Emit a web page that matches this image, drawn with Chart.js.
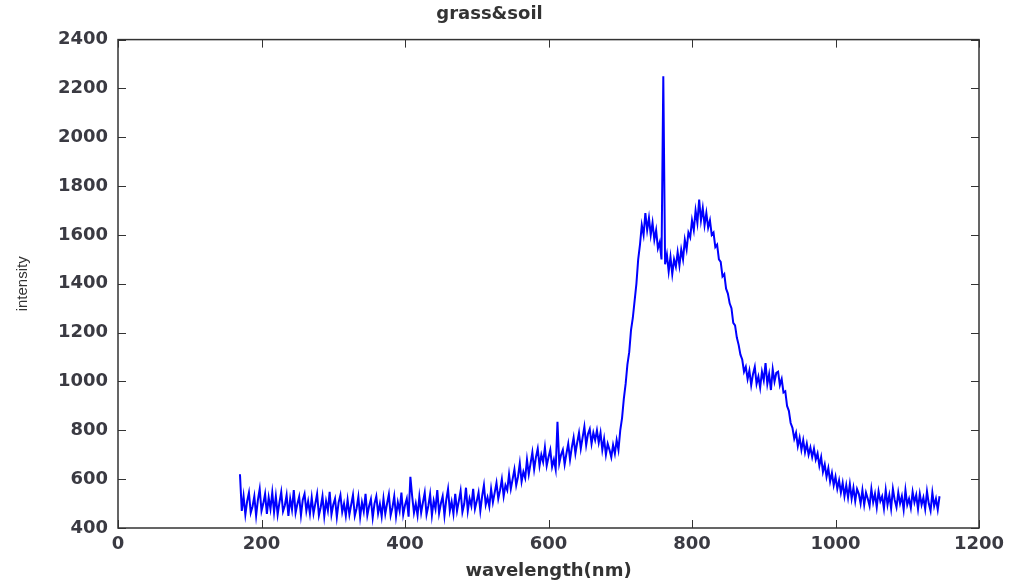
<!DOCTYPE html>
<html>
<head>
<meta charset="utf-8">
<title>grass&amp;soil</title>
<script src="https://cdn.jsdelivr.net/npm/chart.js@4.4.0/dist/chart.umd.min.js"></script>
<style>
  html, body { margin: 0; padding: 0; background: #fff; }
  #wrap { width: 1011px; height: 583px; position: relative; }
</style>
</head>
<body>
<div id="wrap"><canvas id="spectrum"></canvas></div>
<script>
// spectrum, one value every 2.5 nm starting at 170 nm
const wlStart = 170;
const wlStep = 2.5;
const intensity = [
  // 170 - 217.5
  620, 470, 530, 455, 510, 545, 462, 488, 530, 450, 515, 560, 470, 500, 540, 458, 525, 478, 545, 465,
  // 220 - 267.5
  530, 455, 505, 548, 468, 492, 535, 450, 520, 475, 555, 462, 498, 528, 452, 515, 540, 470, 510, 458,
  // 270 - 317.5
  525, 460, 500, 540, 452, 485, 530, 448, 510, 472, 548, 455, 495, 520, 445, 505, 535, 465, 500, 450,
  // 320 - 367.5
  515, 455, 495, 535, 450, 480, 528, 445, 505, 468, 540, 452, 490, 518, 443, 500, 530, 460, 498, 448,
  // 370 - 417.5
  520, 458, 500, 538, 452, 484, 530, 448, 505, 470, 545, 455, 493, 520, 446, 610, 530, 462, 500, 452,
  // 420 - 467.5
  528, 462, 505, 545, 455, 490, 538, 452, 512, 478, 555, 460, 500, 530, 450, 515, 560, 470, 508, 458,
  // 470 - 517.5
  540, 470, 510, 552, 465, 498, 565, 470, 520, 490, 560, 478, 510, 545, 470, 530, 575, 495, 525, 488,
  // 520 - 567.5
  560, 505, 545, 585, 520, 555, 600, 530, 575, 555, 620, 560, 600, 640, 575, 610, 665, 590, 630, 605,
  // 570 - 617.5
  680, 620, 665, 710, 640, 690, 725, 655, 700, 670, 730, 655, 690, 720, 650, 680, 640, 835, 665, 700,
  // 620 - 667.5
  720, 660, 705, 745, 680, 730, 770, 705, 750, 790, 725, 770, 815, 740, 785, 805, 745, 790, 760, 800,
  // 670 - 717.5
  750, 790, 720, 765, 700, 745, 720, 690, 740, 705, 760, 720, 800, 850, 930, 990, 1070, 1120, 1210, 1260,
  // 720 - 767.5
  1330, 1400, 1500, 1560, 1640, 1600, 1690, 1620, 1670, 1600, 1650, 1580, 1620, 1545, 1570, 1500, 2250, 1480, 1520, 1450,
  // 770 - 817.5
  1510, 1440, 1500, 1470, 1530, 1475, 1540, 1500, 1580, 1540, 1610, 1590, 1660, 1620, 1700, 1650, 1745, 1660, 1710, 1640,
  // 820 - 867.5
  1690, 1630, 1660, 1600, 1610, 1550, 1560, 1500, 1490, 1430, 1440, 1380, 1360, 1320, 1300, 1240, 1230, 1180, 1150, 1110,
  // 870 - 917.5
  1090, 1040, 1060, 1010, 1045, 985, 1030, 1060, 990, 1020, 975, 1040, 1005, 1075, 990, 1030, 965, 1050, 1000, 1035,
  // 920 - 967.5
  1040, 985, 1010, 955, 960, 900, 880, 830, 810, 765, 790, 735, 770, 720, 760, 710, 745, 700, 730, 690,
  // 970 - 1017.5
  725, 680, 705, 655, 690, 630, 660, 610, 645, 590, 625, 575, 610, 560, 595, 545, 585, 530, 575, 525,
  // 1020 - 1067.5
  580, 520, 565, 510, 560, 540, 500, 555, 495, 545, 520, 490, 560, 505, 540, 485, 550, 510, 530, 480,
  // 1070 - 1117.5
  555, 495, 535, 480, 560, 515, 485, 545, 500, 530, 475, 555, 495, 520, 482, 548, 505, 535, 478, 540,
  // 1120 - 1145
  495, 525, 478, 550, 500, 470, 545, 490, 520, 475, 530
];
const wavelength = intensity.map((_, i) => wlStart + i * wlStep);

const xTicks = [0, 200, 400, 600, 800, 1000, 1200];
const yTicks = [400, 600, 800, 1000, 1200, 1400, 1600, 1800, 2000, 2200, 2400];

const points = wavelength.map((w, i) => ({ x: w, y: intensity[i] }));

Chart.defaults.font.family = 'DejaVu Sans';
Chart.defaults.color = '#3a3a42';

// matlab style box with inward ticks on all four sides
const boxTicks = {
  id: 'boxTicks',
  afterDraw(chart) {
    const { ctx, chartArea: a, scales } = chart;
    const len = 8;
    ctx.save();
    ctx.strokeStyle = '#333';
    ctx.lineWidth = 1;
    ctx.beginPath();
    scales.x.ticks.forEach(t => {
      const px = Math.round(scales.x.getPixelForValue(t.value)) + 0.5;
      ctx.moveTo(px, a.bottom); ctx.lineTo(px, a.bottom - len);
      ctx.moveTo(px, a.top); ctx.lineTo(px, a.top + len);
    });
    scales.y.ticks.forEach(t => {
      const py = Math.round(scales.y.getPixelForValue(t.value)) + 0.5;
      ctx.moveTo(a.left, py); ctx.lineTo(a.left + len, py);
      ctx.moveTo(a.right, py); ctx.lineTo(a.right - len, py);
    });
    ctx.stroke();
    ctx.lineWidth = 1.5;
    ctx.strokeRect(a.left, a.top, a.right - a.left, a.bottom - a.top);
    ctx.restore();
  }
};

new Chart(document.getElementById('spectrum'), {
  type: 'line',
  data: {
    datasets: [{
      label: 'grass&soil',
      data: points,
      borderColor: '#0000ff',
      borderWidth: 2,
      pointRadius: 0,
      tension: 0,
      fill: false
    }]
  },
  options: {
    responsive: true,
    maintainAspectRatio: false,
    animation: false,
    layout: { padding: { left: 0, right: 32, top: 0, bottom: 0 } },
    plugins: {
      legend: { display: false },
      tooltip: { enabled: false },
      title: {
        display: true,
        text: 'grass&soil',
        color: '#333',
        font: { size: 18, weight: 'bold' },
        padding: { top: 4, bottom: 14 }
      }
    },
    scales: {
      x: {
        type: 'linear',
        min: 0,
        max: 1200,
        afterBuildTicks: s => { s.ticks = xTicks.map(v => ({ value: v })); },
        afterFit: s => { s.height = 55; },
        grid: { display: false, drawTicks: false },
        border: { display: false },
        ticks: { padding: 6, maxRotation: 0, font: { size: 18, weight: 'bold' }, callback: v => String(v) },
        title: {
          display: true,
          text: 'wavelength(nm)',
          color: '#333',
          font: { size: 18, weight: 'bold' },
          padding: { top: 0, bottom: 1 }
        }
      },
      y: {
        min: 400,
        max: 2400,
        afterBuildTicks: s => { s.ticks = yTicks.map(v => ({ value: v })); },
        afterFit: s => { s.width = 118; },
        grid: { display: false, drawTicks: false },
        border: { display: false },
        ticks: { padding: 10, font: { size: 18, weight: 'bold' }, callback: v => String(v) },
        title: {
          display: true,
          text: 'intensity',
          color: '#333',
          font: { family: 'Liberation Sans', size: 15 },
          padding: { top: 14, bottom: 0 }
        }
      }
    }
  },
  plugins: [boxTicks]
});
</script>
</body>
</html>
